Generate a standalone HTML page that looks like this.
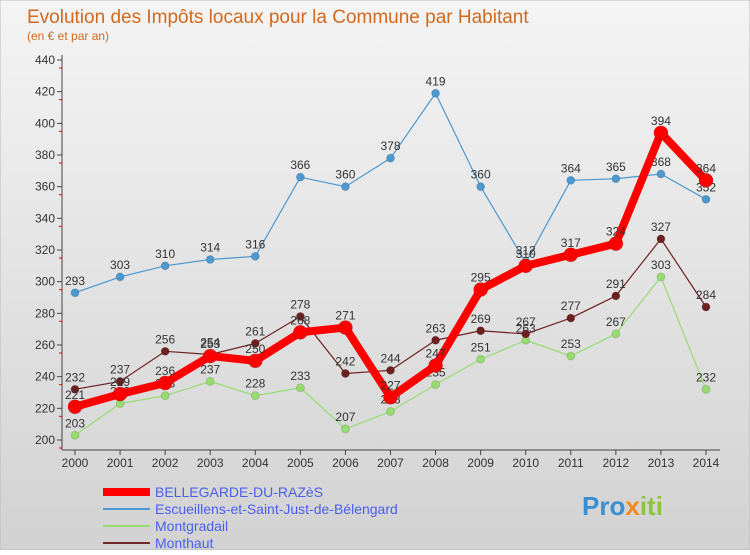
<!DOCTYPE html>
<html><head><meta charset="utf-8"><style>
body{margin:0;width:750px;height:550px;overflow:hidden;font-family:"Liberation Sans",sans-serif}
</style></head><body>
<svg width="750" height="550" xmlns="http://www.w3.org/2000/svg">
<defs><linearGradient id="bg" x1="0" y1="0" x2="0" y2="1"><stop offset="0" stop-color="#f4f4f4"/><stop offset="1" stop-color="#d2d2d2"/></linearGradient></defs>
<rect width="750" height="550" fill="url(#bg)" stroke="#bbb"/>
<text x="27" y="23" font-size="19" fill="#d2691e">Evolution des Impôts locaux pour la Commune par Habitant</text>
<text x="27" y="40" font-size="12" fill="#d2691e">(en € et par an)</text>
<g id="axes"></g><g id="series"></g>
<g>
<line x1="103" y1="492" x2="150" y2="492" stroke="#f00" stroke-width="8"/>
<text x="155" y="497" font-size="14" fill="#4a5ef0">BELLEGARDE-DU-RAZèS</text>
<line x1="103" y1="509" x2="150" y2="509" stroke="#4c98d0" stroke-width="2"/>
<text x="155" y="514" font-size="14" fill="#4a5ef0">Escueillens-et-Saint-Just-de-Bélengard</text>
<line x1="103" y1="526" x2="150" y2="526" stroke="#96dc6e" stroke-width="2"/>
<text x="155" y="531" font-size="14" fill="#4a5ef0">Montgradail</text>
<line x1="103" y1="543" x2="150" y2="543" stroke="#6e2a2a" stroke-width="2"/>
<text x="155" y="548" font-size="14" fill="#4a5ef0">Monthaut</text>
</g>
<text x="582" y="515" font-size="26" font-weight="bold" fill="#3a8fd0">Pro<tspan fill="#f08c1e">x</tspan><tspan fill="#8cc43c">iti</tspan></text>
</svg>
<script>
const years=[2000,2001,2002,2003,2004,2005,2006,2007,2008,2009,2010,2011,2012,2013,2014];
const yTicks=[200,220,240,260,280,300,320,340,360,380,400,420,440];
const bellegarde=[221,229,236,253,250,268,271,227,247,295,310,317,324,394,364];
const escueillens=[293,303,310,314,316,366,360,378,419,360,312,364,365,368,352];
const montgradail=[203,223,228,237,228,233,207,218,235,251,263,253,267,303,232];
const monthaut=[232,237,256,254,261,278,242,244,263,269,267,277,291,327,284];
const NS="http://www.w3.org/2000/svg";
const xS=i=>75+i*(706-75)/(years.length-1);
const yS=v=>440-(v-200)*(380/240);
function mk(t,a,p){const e=document.createElementNS(NS,t);for(const k in a)e.setAttribute(k,a[k]);p.appendChild(e);return e;}
const ax=document.getElementById('axes');
const yl=mk('line',{x1:62,y1:55,x2:62,y2:450,stroke:'#444'},ax);


const xl=mk('line',{x1:62,y1:450,x2:720,y2:450,stroke:'#444'},ax);


yTicks.forEach(v=>{const y=yS(v);
mk('line',{x1:57,y1:y,x2:62,y2:y,stroke:'#444'},ax);
mk('line',{x1:59,y1:y+8,x2:62,y2:y+8,stroke:'#e00'},ax);
const t=mk('text',{x:55,y:y+4,'font-size':12,fill:'#333','text-anchor':'end'},ax);t.textContent=v;

});
years.forEach((yr,i)=>{const x=xS(i);
mk('line',{x1:x,y1:450,x2:x,y2:455,stroke:'#444'},ax);
const t=mk('text',{x:x,y:467,'font-size':12,fill:'#333','text-anchor':'middle'},ax);t.textContent=yr;

});
const sg=document.getElementById('series');
function series(name,data,color,w,r){
const g=mk('g',{},sg);


const pl=mk('polyline',{points:data.map((v,i)=>xS(i)+','+yS(v)).join(' '),fill:'none',stroke:color,'stroke-width':w,'stroke-linejoin':'round'},g);


data.forEach((v,i)=>{const c=mk('circle',{cx:xS(i),cy:yS(v),r:r,fill:color,stroke:'#0002'},g);


const t=mk('text',{x:xS(i),y:yS(v)-8,'font-size':12,fill:'#333','text-anchor':'middle'},g);t.textContent=v;

});}
series('escueillens',escueillens,'#4c98d0',1.2,4);
series('montgradail',montgradail,'#96dc6e',1.2,4);
series('monthaut',monthaut,'#6e2020',1.2,4);
series('bellegarde',bellegarde,'#f00',8,7);
</script>
</body></html>
